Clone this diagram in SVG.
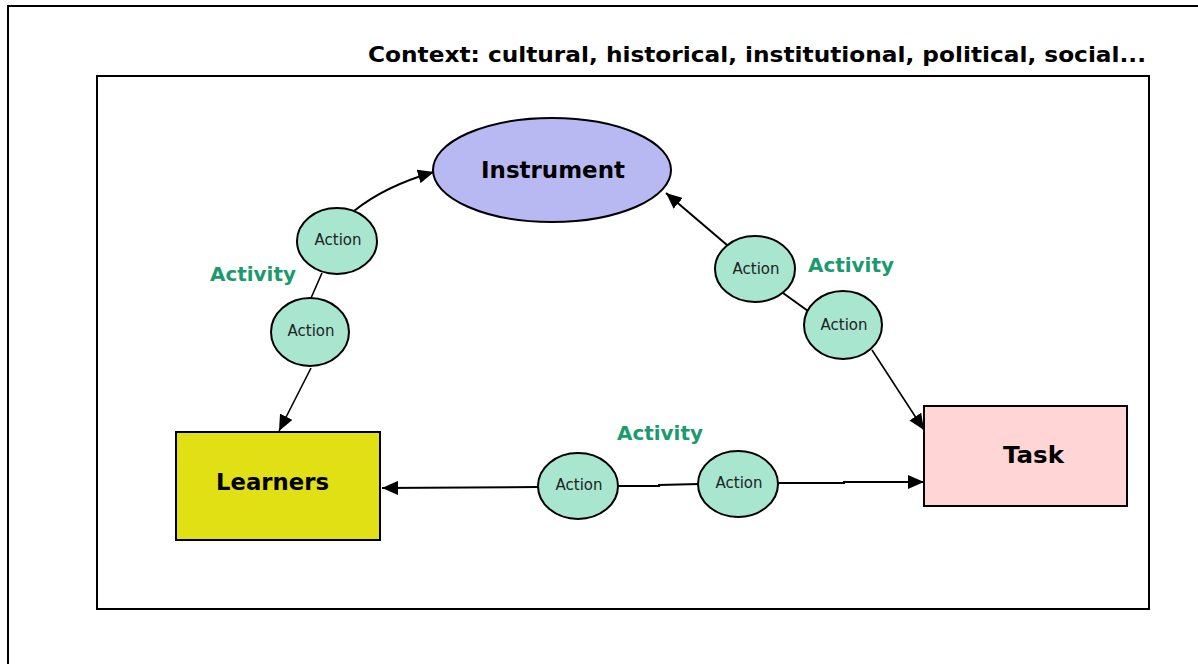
<svg xmlns="http://www.w3.org/2000/svg" width="1198" height="664" viewBox="0 0 1198 664">
<style>
.frame{fill:#fff;stroke:#000;stroke-width:2}
.act{fill:#a8e6d0;stroke:#000;stroke-width:2}
.at{font-family:"DejaVu Sans",sans-serif;font-size:15px;fill:#222;text-anchor:middle}
.big{font-family:"DejaVu Sans",sans-serif;font-weight:bold;font-size:23.5px;fill:#000;text-anchor:middle}
.lab{font-family:"DejaVu Sans",sans-serif;font-weight:bold;font-size:20px;fill:#1a9a6e}
.edge{fill:none;stroke:#000;stroke-width:1.6}
.thick{stroke-width:2}
</style>
<defs>
<marker id="arr" markerUnits="userSpaceOnUse" markerWidth="18" markerHeight="14" refX="16" refY="7" orient="auto">
<path d="M0,0 L16,7 L0,14 Z" fill="#000"/>
</marker>
</defs>
<rect x="8" y="6" width="1200" height="670" fill="#fff" stroke="#000" stroke-width="2"/>
<text x="368" y="62" textLength="778" lengthAdjust="spacingAndGlyphs" style="font-family:'DejaVu Sans',sans-serif;font-weight:bold;font-size:21px" fill="#000">Context: cultural, historical, institutional, political, social...</text>
<rect class="frame" x="97" y="76" width="1052" height="533"/>
<g id="connectors">
<path class="edge thick" d="M354,211 Q385,186 434,172" marker-end="url(#arr)"/>
<path class="edge" d="M322,273 L311,298"/>
<path class="edge" d="M311,368 L279,431" marker-end="url(#arr)"/>
<path class="edge thick" d="M727,245 L666,193" marker-end="url(#arr)"/>
<path class="edge thick" d="M783,293 L808,311"/>
<path class="edge" d="M872,350 L924,430" marker-end="url(#arr)"/>
<path class="edge thick" d="M538,487 L382,488" marker-end="url(#arr)"/>
<path class="edge thick" d="M618,486 L659,486 L659,485 L699,484"/>
<path class="edge thick" d="M778,483 L844,483 L844,482 L924,482" marker-end="url(#arr)"/>
</g>
<g id="instrument">
<ellipse cx="552" cy="170" rx="119" ry="52" fill="#b8b8f2" stroke="#000" stroke-width="2"/>
<text class="big" x="553" y="178" textLength="144" lengthAdjust="spacingAndGlyphs">Instrument</text>
</g>
<g id="learners">
<rect x="176" y="432" width="204" height="108" fill="#e0e014" stroke="#000" stroke-width="2"/>
<text class="big" x="272.5" y="490" textLength="113" lengthAdjust="spacingAndGlyphs">Learners</text>
</g>
<g id="task">
<rect x="924" y="406" width="203" height="100" fill="#ffd5d5" stroke="#000" stroke-width="2"/>
<text class="big" x="1033.5" y="463" textLength="61" lengthAdjust="spacingAndGlyphs">Task</text>
</g>
<g id="action1"><ellipse class="act" cx="337" cy="241" rx="40" ry="33"/><text class="at" x="338" y="245">Action</text></g>
<g id="action2"><ellipse class="act" cx="310" cy="332" rx="39" ry="34"/><text class="at" x="311" y="336">Action</text></g>
<g id="action3"><ellipse class="act" cx="755" cy="269" rx="40" ry="33"/><text class="at" x="756" y="274">Action</text></g>
<g id="action4"><ellipse class="act" cx="843" cy="325" rx="39" ry="34"/><text class="at" x="844" y="330">Action</text></g>
<g id="action5"><ellipse class="act" cx="578" cy="486" rx="40" ry="33"/><text class="at" x="579" y="490">Action</text></g>
<g id="action6"><ellipse class="act" cx="738" cy="484" rx="40" ry="33"/><text class="at" x="739" y="488">Action</text></g>
<g id="labels">
<text class="lab" x="210" y="281" textLength="86" lengthAdjust="spacingAndGlyphs">Activity</text>
<text class="lab" x="808" y="272" textLength="86" lengthAdjust="spacingAndGlyphs">Activity</text>
<text class="lab" x="617" y="440" textLength="86" lengthAdjust="spacingAndGlyphs">Activity</text>
</g>
</svg>
